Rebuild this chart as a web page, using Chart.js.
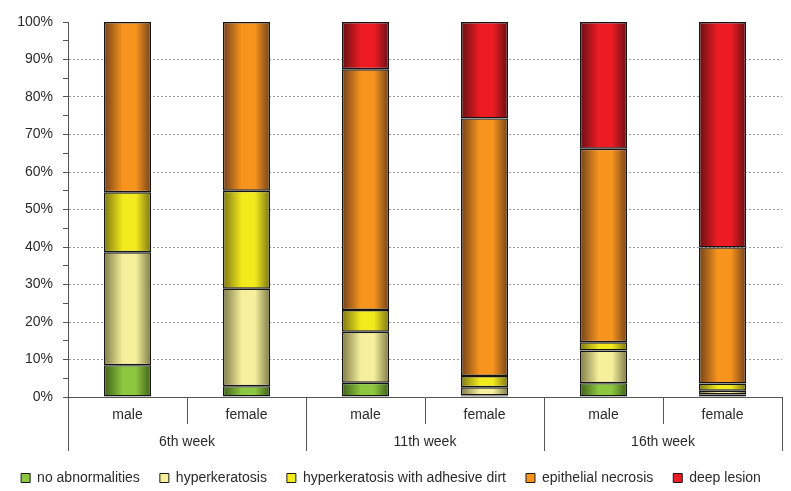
<!DOCTYPE html>
<html>
<head>
<meta charset="utf-8">
<script src="https://cdn.jsdelivr.net/npm/chart.js@4.4.1/dist/chart.umd.min.js"></script>
<style>
  html, body { margin: 0; padding: 0; background: #fff; overflow: hidden; }
  #wrap { width: 791px; height: 491px; position: relative; }
</style>
</head>
<body>
<div id="wrap"><canvas id="grafica"></canvas></div>
<script>
// datos (porcentajes por grupo)
const categorias = ['male', 'female', 'male', 'female', 'male', 'female'];
const semanas = ['6th week', '11th week', '16th week'];
const yTicks = [0, 10, 20, 30, 40, 50, 60, 70, 80, 90, 100];

const noAbnormalities    = [8.5, 2.9, 3.8, 0.4, 3.7, 0.7];
const hyperkeratosis     = [30.1, 26.0, 13.6, 2.2, 8.7, 1.0];
const hyperkeratosisDirt = [16.0, 26.1, 5.8, 3.0, 2.2, 1.9];
const epithelialNecrosis = [45.4, 45.0, 64.2, 68.7, 51.6, 36.3];
const deepLesion         = [0, 0, 12.6, 25.7, 33.8, 60.1];

const coloresClaros = ['#8dc63f', '#f6f09c', '#f2ea1c', '#f7941d', '#ed1c24'];
const coloresOscuros = ['#40601a', '#7f7b48', '#7e7712', '#74421a', '#681013'];

const fuente = { family: "'Liberation Sans', Arial, sans-serif", size: 14 };
const colorTexto = '#2a2a2a';
const grosorBarra = 47;

// relleno con sombreado horizontal (bordes oscuros, centro claro)
function sombreado(claro, oscuro) {
    return (ctx) => {
        const chart = ctx.chart;
        if (ctx.type !== 'data' || !chart.chartArea || !chart.scales.x) return claro;
        const centro = chart.scales.x.getPixelForValue(ctx.dataIndex);
        const mitad = grosorBarra / 2;
        const g = chart.ctx.createLinearGradient(centro - mitad, 0, centro + mitad, 0);
        g.addColorStop(0, oscuro);
        g.addColorStop(0.4, claro);
        g.addColorStop(0.68, claro);
        g.addColorStop(1, oscuro);
        return g;
    };
}

function serie(label, data, i) {
    return {
        label: label,
        data: data,
        backgroundColor: sombreado(coloresClaros[i], coloresOscuros[i]),
        borderColor: '#141414',
        borderWidth: 1.4,
        borderSkipped: false,
        inflateAmount: 0,
        barThickness: grosorBarra
    };
}

new Chart(document.getElementById('grafica'), {
    type: 'bar',
    data: {
        labels: categorias,
        datasets: [
            serie('no abnormalities', noAbnormalities, 0),
            serie('hyperkeratosis', hyperkeratosis, 1),
            serie('hyperkeratosis with adhesive dirt', hyperkeratosisDirt, 2),
            serie('epithelial necrosis', epithelialNecrosis, 3),
            serie('deep lesion', deepLesion, 4)
        ]
    },
    options: {
        responsive: true,
        maintainAspectRatio: false,
        animation: false,
        layout: { padding: { top: 22, right: 9, bottom: -4, left: 0 } },
        plugins: {
            tooltip: { enabled: false },
            legend: {
                position: 'bottom',
                labels: {
                    boxWidth: 9,
                    boxHeight: 9,
                    padding: 20,
                    color: colorTexto,
                    font: fuente,
                    generateLabels: (chart) => {
                        const items = Chart.defaults.plugins.legend.labels.generateLabels(chart);
                        items.forEach((it, i) => {
                            it.fillStyle = coloresClaros[i];
                            it.strokeStyle = '#1a1a1a';
                            it.lineWidth = 1;
                        });
                        return items;
                    }
                }
            }
        },
        scales: {
            x: {
                type: 'category',
                stacked: true,
                offset: true,
                grid: { offset: true, drawOnChartArea: false, tickLength: 27, tickColor: '#555', tickWidth: 1 },
                border: { display: true, color: '#555', width: 1 },
                ticks: { padding: -17.4, color: colorTexto, font: fuente, autoSkip: false, maxRotation: 0 },
                afterFit: (s) => { s.height = 27; }
            },
            x2: {
                type: 'category',
                labels: semanas,
                position: 'bottom',
                weight: 1,
                offset: true,
                grid: { offset: true, drawOnChartArea: false, tickLength: 27, tickColor: '#555', tickWidth: 1 },
                border: { display: false },
                ticks: { padding: -17.4, color: colorTexto, font: fuente, autoSkip: false, maxRotation: 0 },
                afterFit: (s) => { s.height = 27; }
            },
            y: {
                stacked: true,
                min: yTicks[0],
                max: yTicks[yTicks.length - 1],
                grid: {
                    color: (c) => (c.tick && c.tick.value % 10 === 0 && c.tick.value > 0 && c.tick.value < 100) ? '#9a9a9a' : 'rgba(0,0,0,0)',
                    tickColor: '#555',
                    tickLength: 5,
                    tickBorderDash: []
                },
                border: { display: true, color: '#555', width: 1, dash: [2, 2] },
                ticks: {
                    stepSize: 5,
                    autoSkip: false,
                    padding: 10,
                    color: colorTexto,
                    font: fuente,
                    callback: (v) => yTicks.includes(v) ? v + '%' : ''
                },
                afterFit: (s) => { s.width = 68; }
            }
        }
    }
});
</script>
</body>
</html>
